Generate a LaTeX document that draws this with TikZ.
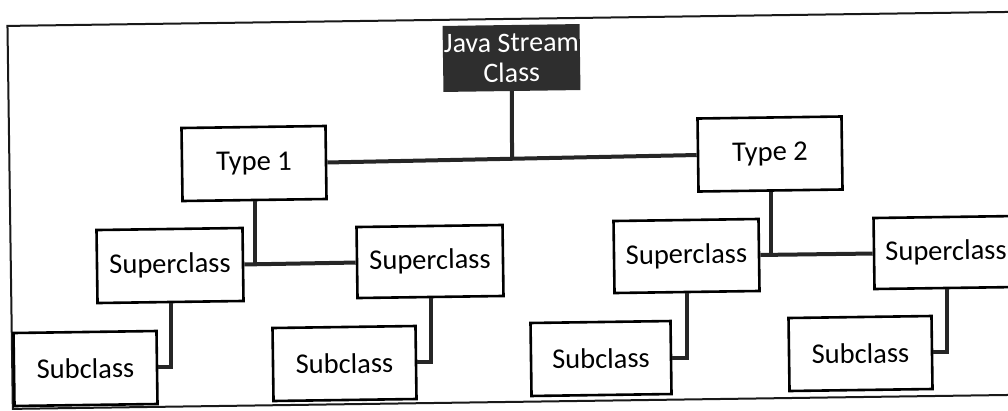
\documentclass[tikz,border=0pt]{standalone}
\usepackage{fontspec}
\setmainfont{Carlito}
\usetikzlibrary{calc}
\begin{document}
\begin{tikzpicture}[x=1pt,y=-1pt,
  box/.style={draw=black,line width=2.6pt,fill=white,rotate=0.8,
    minimum width=144pt,minimum height=73pt,inner sep=0pt,
    font=\fontsize{28.5}{30}\selectfont},
  darkbox/.style={fill=black!82,text=white,rotate=0.8,
    minimum width=137pt,minimum height=66pt,inner sep=0pt,align=center,
    font=\fontsize{28}{30}\selectfont},
  link/.style={line width=4pt,draw=black!85},
  frame/.style={line width=2pt,draw=black!90}]
\useasboundingbox (0,0) rectangle (1008,410);
\clip (0,0) rectangle (1008,410);
\draw[frame,rotate around={0.8:(504,205)}] (10,19) rectangle (1080,402);
% nodes
\node[darkbox] (java) at (511.5,58) {Java Stream\\Class};
\node[box] (t1) at (254,163.5) {Type 1};
\node[box] (t2) at (770,154) {Type 2};
\node[box,minimum width=146pt] (s1) at (170,265.5) {Superclass};
\node[box,minimum width=146pt,minimum height=71pt] (s2) at (430,261.5) {Superclass};
\node[box,minimum width=145pt,minimum height=72pt] (s3) at (686.5,256) {Superclass};
\node[box,minimum width=144pt,minimum height=71pt] (s4) at (946,252.5) {Superclass};
\node[box,minimum width=143pt] (b1) at (85.5,368.5) {Subclass};
\node[box,minimum width=143pt] (b2) at (344.5,363.5) {Subclass};
\node[box,minimum width=140pt] (b3) at (601,358.5) {Subclass};
\node[box,minimum width=143pt] (b4) at (860.5,353.5) {Subclass};
% connectors
\coordinate (jmid) at ($(t1.east)!0.5!(t2.west)$);
\draw[link] (t1.east) -- (t2.west);
\draw[link] (java.south) -- (jmid);
\draw[link] (s1.east) -- (s2.west);
\draw[link] (t1.south) -- (t1.south |- s1.east);
\draw[link] (s3.east) -- (s4.west);
\draw[link] (t2.south) -- (t2.south |- s3.east);
\draw[link] (s1.south) |- (b1.east);
\draw[link] (s2.south) |- (b2.east);
\draw[link] (s3.south) |- (b3.east);
\draw[link] (s4.south) |- (b4.east);
\end{tikzpicture}
\end{document}
